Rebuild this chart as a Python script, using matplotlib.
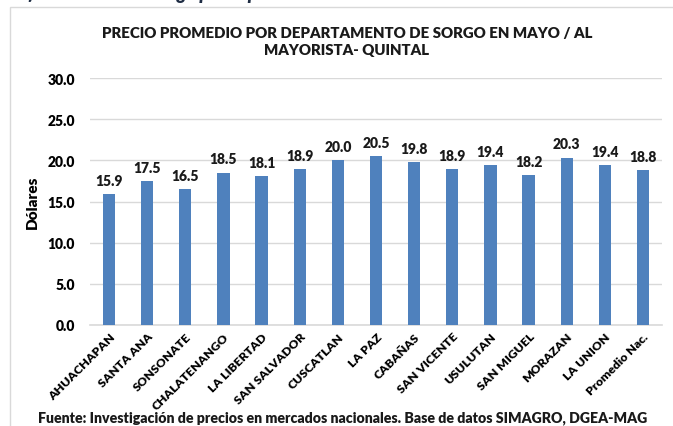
import matplotlib
matplotlib.use("Agg")
import matplotlib.pyplot as plt
from matplotlib.patches import Rectangle

departamentos = ["AHUACHAPAN", "SANTA ANA", "SONSONATE", "CHALATENANGO", "LA LIBERTAD",
                 "SAN SALVADOR", "CUSCATLAN", "LA PAZ", "CABAÑAS", "SAN VICENTE",
                 "USULUTAN", "SAN MIGUEL", "MORAZAN", "LA UNION", "Promedio Nac."]
precios = [15.9, 17.5, 16.5, 18.5, 18.1, 18.9, 20.0, 20.5, 19.8, 18.9, 19.4, 18.2, 20.3, 19.4, 18.8]
yticks = [0, 5, 10, 15, 20, 25, 30]

plt.rcParams['font.family'] = ['Lato', 'DejaVu Sans']
BW = 'heavy'

W, H = 673, 427
fig = plt.figure(figsize=(W / 100, H / 100), dpi=100)

# chart frame (cut at right and bottom like the screenshot)
fig.patches.append(Rectangle((10 / W, -0.1), 1.2, 1 - 8 / H + 0.1, transform=fig.transFigure,
                             fill=False, edgecolor='#d9d9d9', linewidth=1.0))

# heading above, mostly cut off
fig.text(0.0, 1 - 3 / H, "Gráfico 4. Precio de sorgo por departamento", transform=fig.transFigure,
         fontsize=13, fontweight=BW, style='italic', color='#1f2d44', va='bottom', ha='left')

ax = fig.add_axes([90 / W, 1 - 326 / H, (662 - 90) / W, (326 - 79) / H])
x = range(len(departamentos))
ax.bar(x, precios, width=0.32, color='#4f81bd', zorder=3)
for xi, v in zip(x, precios):
    ax.text(xi, v + 0.9, f"{v:.1f}", ha='center', va='bottom', fontsize=10, fontweight=BW,
            color='#1a1a1a')

ax.set_ylim(0, 30)
ax.set_xlim(-0.5, len(departamentos) - 0.5)
ax.set_yticks(yticks)
ax.set_yticklabels([f"{t:.1f}" for t in yticks], fontsize=10, fontweight=BW)
ax.yaxis.grid(True, color='#d9d9d9', linewidth=1.0, zorder=0)
ax.set_xticks(list(x))
ax.set_xticklabels(departamentos, rotation=45, ha='right', rotation_mode='anchor',
                   fontsize=8.8, fontweight=BW)
ax.tick_params(axis='both', length=0, pad=4)
ax.tick_params(axis='y', pad=11)
for s in ['top', 'right', 'left']:
    ax.spines[s].set_visible(False)
ax.spines['bottom'].set_color('#d9d9d9')
ax.spines['bottom'].set_linewidth(1.2)

ax.set_ylabel("Dólares", fontsize=11, fontweight=BW)
ax.yaxis.set_label_coords(-(90 - 39) / (662 - 90), 0.5)

fig.text(347 / W, 1 - 42 / H, "PRECIO PROMEDIO POR DEPARTAMENTO DE SORGO EN MAYO / AL\nMAYORISTA- QUINTAL",
         ha='center', va='center', fontsize=10.8, fontweight=BW, linespacing=1.45, color='#1a1a1a')

fig.text(38 / W, 1 - 418 / H, "Fuente: Investigación de precios en mercados nacionales. Base de datos SIMAGRO, DGEA-MAG",
         ha='left', va='center', fontsize=10.2, fontweight=BW, color='#1a1a1a')

fig.savefig("out.png", dpi=100)
